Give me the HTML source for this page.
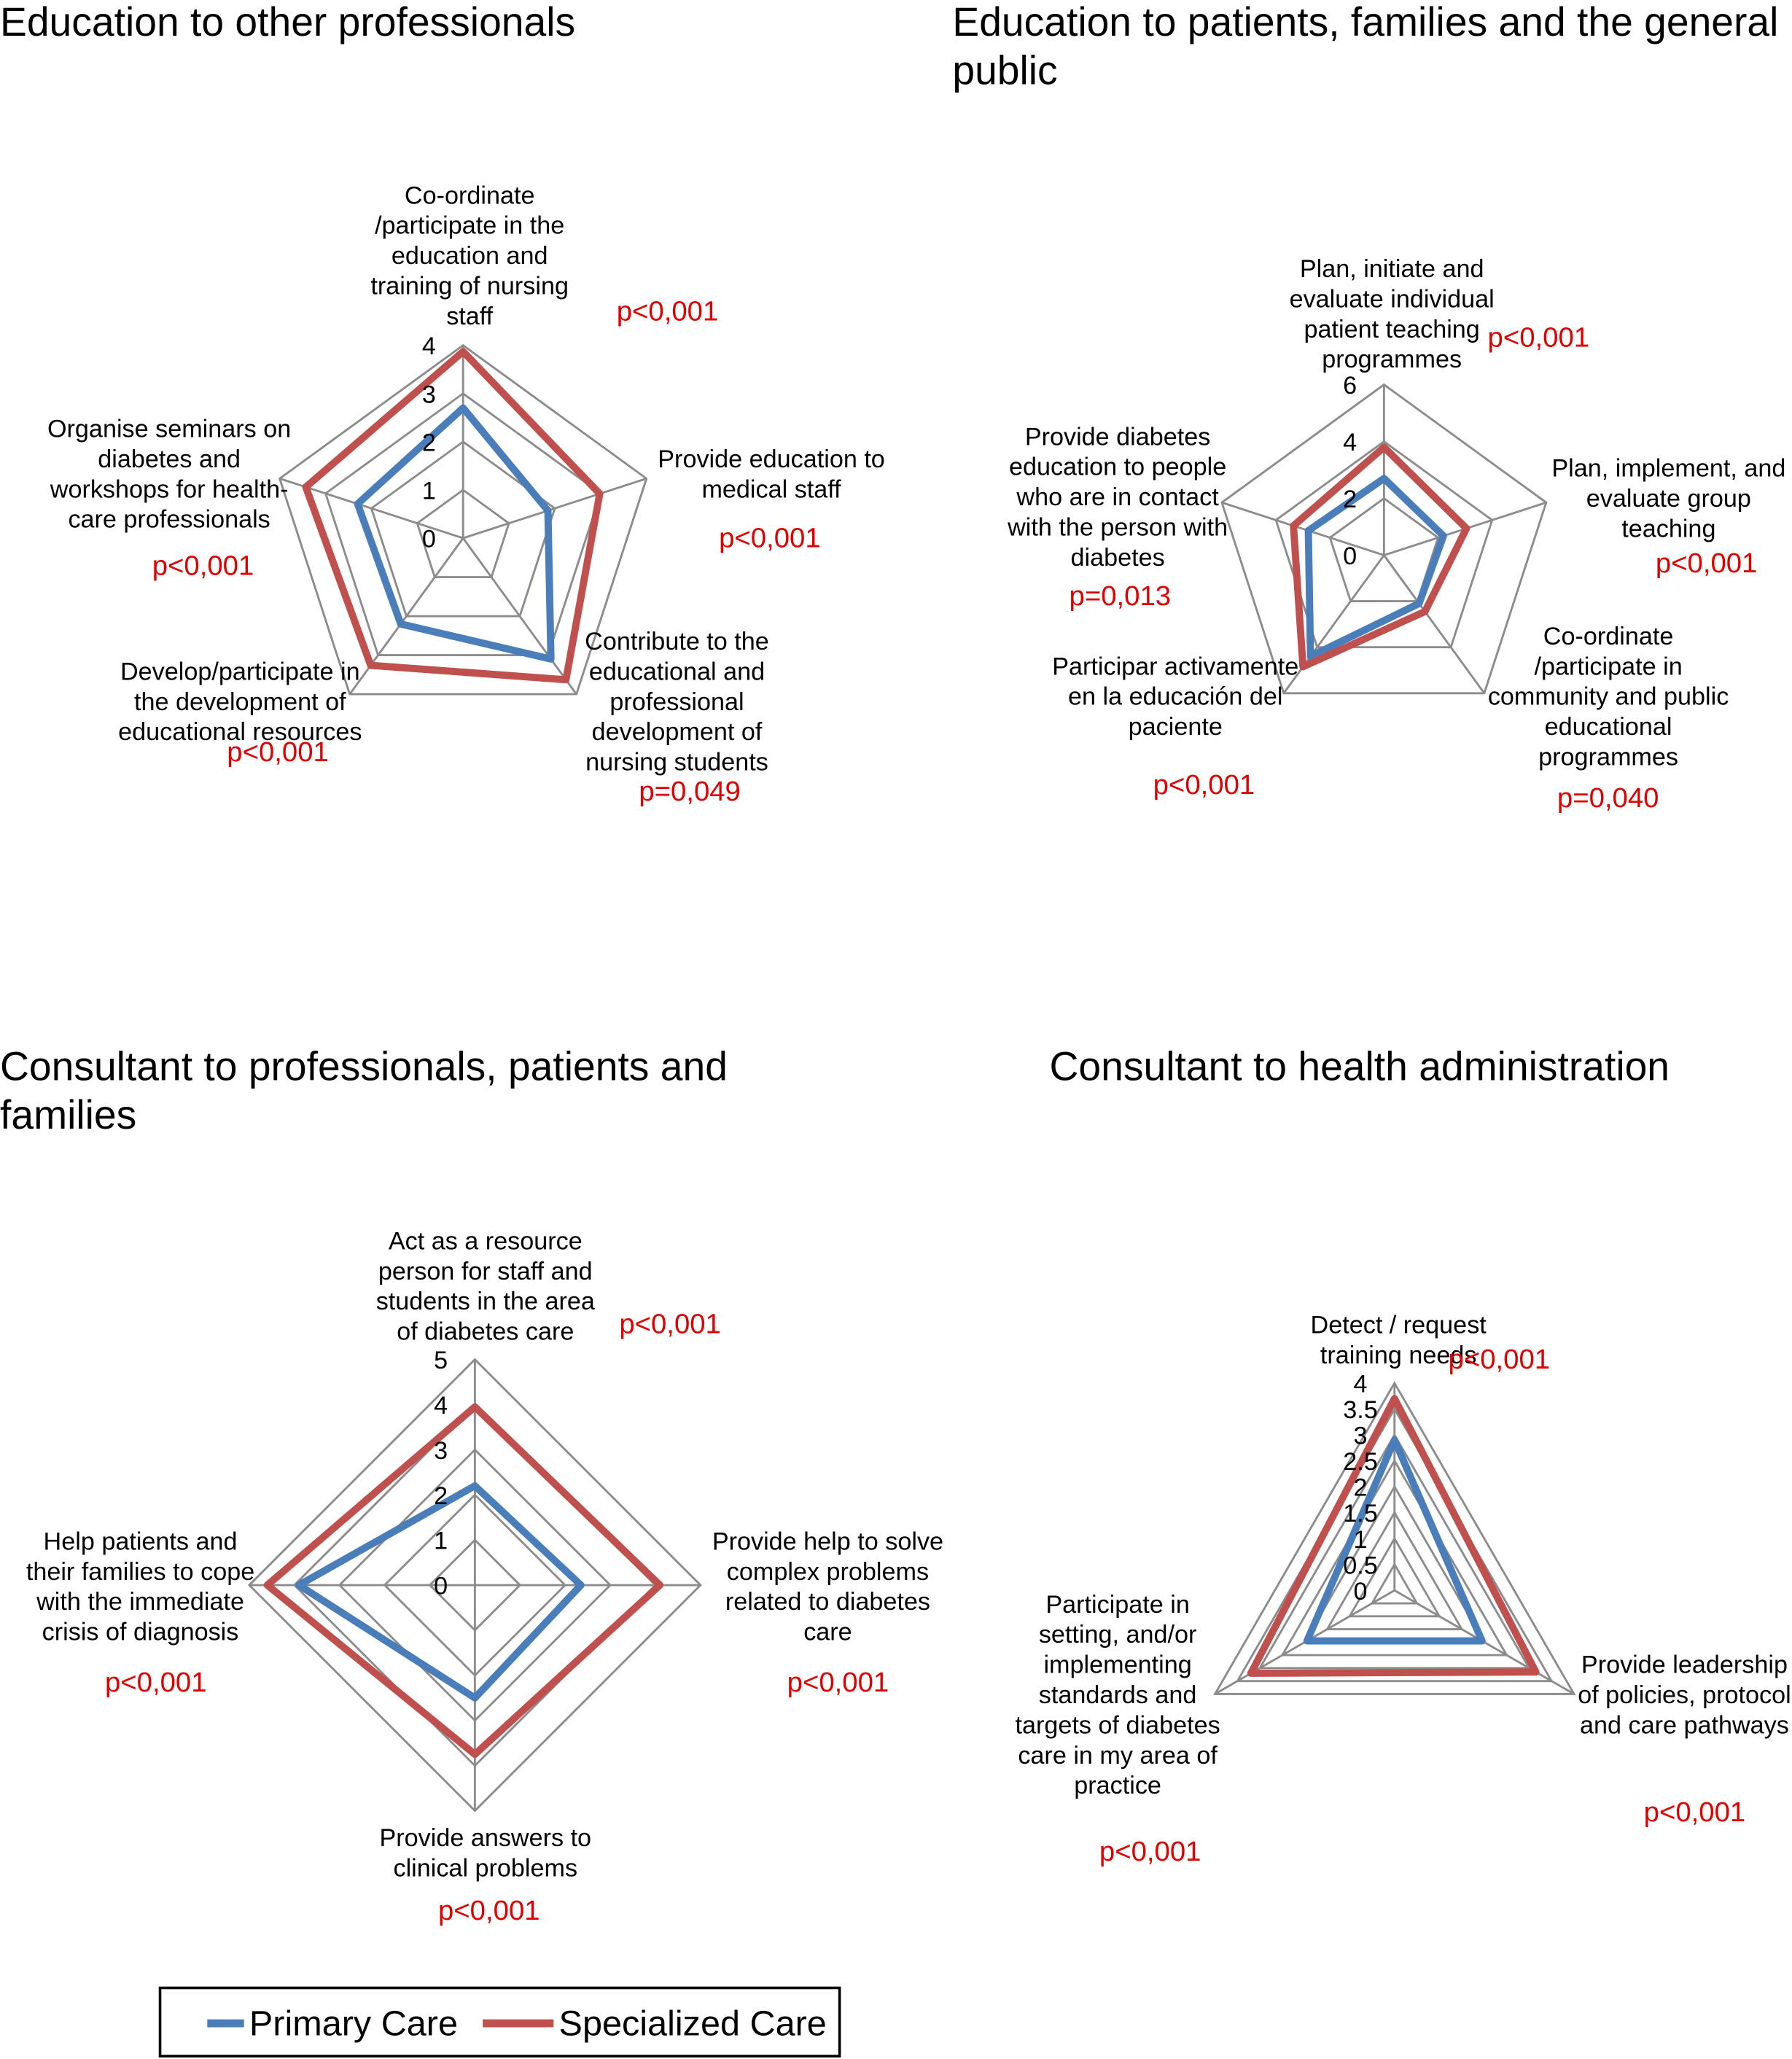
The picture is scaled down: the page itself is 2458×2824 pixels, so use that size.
<!DOCTYPE html>
<html><head><meta charset="utf-8"><style>
html,body{margin:0;padding:0;background:#fff}
svg{display:block}
text{font-family:"Liberation Sans",Arial,sans-serif}
.t{font-size:30.7px;fill:#000}
.l{font-size:19px;fill:#000;text-anchor:middle}
.p{font-size:21.3px;fill:#e00000}
.tk{font-size:19px;fill:#000;text-anchor:middle}
</style></head><body>
<svg id="fig" width="2458" height="2824" viewBox="0 0 1366 1569" xmlns="http://www.w3.org/2000/svg">
<rect width="1366" height="1569" fill="#fff"/>
<text class="t" x="0" y="27">Education to other professionals</text>
<text class="t" x="726" y="27">Education to patients, families and the general</text>
<text class="t" x="726" y="64">public</text>
<text class="t" x="0" y="823">Consultant to professionals, patients and</text>
<text class="t" x="0" y="860">families</text>
<text class="t" x="800" y="823">Consultant to health administration</text>
<g id="charts"></g>
<g>
<rect x="122" y="1515" width="518" height="52" fill="#fff" stroke="#000" stroke-width="2"/>
<line x1="158" y1="1542" x2="186" y2="1542" stroke="#4a7ebb" stroke-width="6"/>
<text x="190" y="1551" font-size="27">Primary Care</text>
<line x1="368" y1="1542" x2="422" y2="1542" stroke="#c0504d" stroke-width="6"/>
<text x="426" y="1551" font-size="27">Specialized Care</text>
</g>
</svg>
<script>
// Chart 1: Education to other professionals
const c1Primary = [2.7, 1.85, 3.1, 2.2, 2.3];
const c1Special = [3.87, 2.98, 3.63, 3.26, 3.43];
const c1Ticks = [0, 1, 2, 3, 4];
// Chart 2: Education to patients
const c2Primary = [2.7, 2.2, 2.1, 4.4, 2.8];
const c2Special = [3.8, 3.05, 2.45, 4.85, 3.35];
const c2Ticks = [0, 2, 4, 6];
// Chart 3: Consultant to professionals
const c3Primary = [2.2, 2.35, 2.5, 3.9];
const c3Special = [3.95, 4.1, 3.75, 4.6];
const c3Ticks = [0, 1, 2, 3, 4, 5];
// Chart 4: Consultant to administration
const c4Primary = [2.9, 1.95, 1.95];
const c4Special = [3.7, 3.15, 3.2];
const c4Ticks = [0, 0.5, 1, 1.5, 2, 2.5, 3, 3.5, 4];

const NS = "http://www.w3.org/2000/svg";
const root = document.getElementById('charts');
function mk(tag, attrs, parent){const e=document.createElementNS(NS,tag);for(const k in attrs)e.setAttribute(k,attrs[k]);(parent||root).appendChild(e);return e;}

function radar(id, cx, cy, R, ticks, series, fs){
  const g = mk('g',{});
  
  
  const n = series[0].length, max = ticks[ticks.length-1];
  const pt = (i,v)=>{const a=2*Math.PI*i/n; const r=R*v/max; return [cx+r*Math.sin(a), cy-r*Math.cos(a)];};
  ticks.forEach((t,k)=>{ if(t===0) return;
    const p = mk('polygon',{points:[...Array(n).keys()].map(i=>pt(i,t).join(',')).join(' '),fill:'none',stroke:'#8c8c8c','stroke-width':1.6},g);
    
    
  });
  for(let i=0;i<n;i++){const [x,y]=pt(i,max);
    const s=mk('line',{x1:cx,y1:cy,x2:x,y2:y,stroke:'#8c8c8c','stroke-width':1.6},g);
    
    
  }
  const cols=['#4a7ebb','#c0504d'], names=['primary-care-series','specialized-care-series'];
  series.forEach((vals,s)=>{
    const p=mk('polygon',{points:vals.map((v,i)=>pt(i,v).join(',')).join(' '),fill:'none',stroke:cols[s],'stroke-width':5.5,'stroke-linejoin':'round'},g);
    
    
  });
  ticks.forEach(t=>{const [x,y]=pt(0,t);
    const e=mk('text',{x:cx-26,y:y+7,class:'tk','font-size':fs},g); e.textContent=t;
    
    
  });
}
radar('chart-education-professionals',353,410,147,c1Ticks,[c1Primary,c1Special],20);
radar('chart-education-patients',1055,423,130,c2Ticks,[c2Primary,c2Special],20);
radar('chart-consultant-professionals',362,1208,172,c3Ticks,[c3Primary,c3Special],26);
radar('chart-consultant-administration',1063,1212,158,c4Ticks,[c4Primary,c4Special],19);

function label(x, y, lines){
  lines.forEach((s,i)=>{const e=mk('text',{x:x,y:y+i*23,class:'l'}); e.textContent=s;
    
    
  });
}
function pv(x,y,s){const e=mk('text',{x:x,y:y,class:'p'}); e.textContent=s;
  
  
}
label(358,155,['Co-ordinate','/participate in the','education and','training of nursing','staff']);
label(588,356,['Provide education to','medical staff']);
label(516,495,['Contribute to the','educational and','professional','development of','nursing students']);
label(183,518,['Develop/participate in','the development of','educational resources']);
label(129,333,['Organise seminars on','diabetes and','workshops for health-','care professionals']);
pv(470,244,'p<0,001'); pv(548,417,'p<0,001'); pv(487,610,'p=0,049'); pv(173,580,'p<0,001'); pv(116,438,'p<0,001');

label(1061,211,['Plan, initiate and','evaluate individual','patient teaching','programmes']);
label(1272,363,['Plan, implement, and','evaluate group','teaching']);
label(1226,491,['Co-ordinate','/participate in','community and public','educational','programmes']);
label(896,514,['Participar activamente','en la educación del','paciente']);
label(852,339,['Provide diabetes','education to people','who are in contact','with the person with','diabetes']);
pv(1134,264,'p<0,001'); pv(1262,436,'p<0,001'); pv(1187,615,'p=0,040'); pv(879,605,'p<0,001'); pv(815,461,'p=0,013');

label(370,952,['Act as a resource','person for staff and','students in the area','of diabetes care']);
label(631,1181,['Provide help to solve','complex problems','related to diabetes','care']);
label(370,1407,['Provide answers to','clinical problems']);
label(107,1181,['Help patients and','their families to cope','with the immediate','crisis of diagnosis']);
pv(472,1016,'p<0,001'); pv(600,1289,'p<0,001'); pv(334,1463,'p<0,001'); pv(80,1289,'p<0,001');

label(1066,1016,['Detect / request','training needs']);
label(1284,1275,['Provide leadership','of policies, protocol','and care pathways']);
label(852,1229,['Participate in','setting, and/or','implementing','standards and','targets of diabetes','care in my area of','practice']);
pv(1104,1043,'p<0,001'); pv(1253,1388,'p<0,001'); pv(838,1418,'p<0,001');
</script>
</body></html>
